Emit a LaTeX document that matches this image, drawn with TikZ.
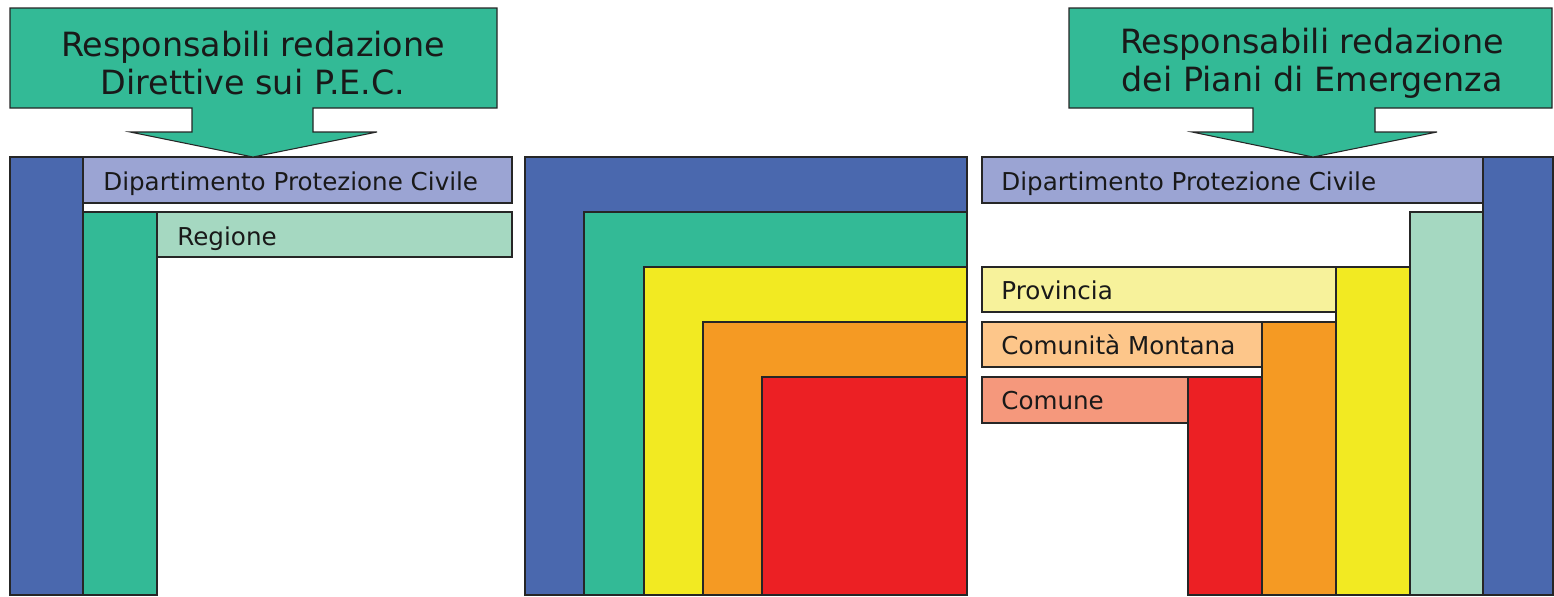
\documentclass[tikz,border=0pt]{standalone}
\usepackage{fontspec}
\setmainfont{DejaVu Sans}
\definecolor{cBlue}{HTML}{4A68AE}
\definecolor{cTeal}{HTML}{33BA96}
\definecolor{cYellow}{HTML}{F2EA22}
\definecolor{cOrange}{HTML}{F59A23}
\definecolor{cRed}{HTML}{EC2024}
\definecolor{cLavender}{HTML}{9BA4D3}
\definecolor{cMint}{HTML}{A5D8C1}
\definecolor{cPaleYellow}{HTML}{F7F29B}
\definecolor{cPaleOrange}{HTML}{FDC68A}
\definecolor{cSalmon}{HTML}{F5987C}
\begin{document}
\begin{tikzpicture}[x=0.02cm,y=-0.02cm,
  box/.style={draw=black!85,line width=0.6pt},
  lbl/.style={anchor=base west,inner sep=0pt,font=\fontsize{14}{16}\selectfont,text=black!90},
  ttl/.style={align=center,inner sep=0pt,font=\fontsize{19}{21.5}\selectfont,text=black!90}]
\useasboundingbox (0,0) rectangle (1554,596);

% ---- left panel: directives ----
\draw[box,fill=cBlue]     (10,157)  rectangle (83,595);
\draw[box,fill=cLavender] (83,157)  rectangle (512,203);
\draw[box,fill=cTeal]     (83,212)  rectangle (157,595);
\draw[box,fill=cMint]     (157,212) rectangle (512,257);
\node[lbl] (dpcL) at (103,190) {Dipartimento Protezione Civile};
\node[lbl] (reg)  at (177,245) {Regione};

% ---- middle panel: nested levels ----
\draw[box,fill=cBlue]   (525,157) rectangle (967,595);
\draw[box,fill=cTeal]   (584,212) rectangle (967,595);
\draw[box,fill=cYellow] (644,267) rectangle (967,595);
\draw[box,fill=cOrange] (703,322) rectangle (967,595);
\draw[box,fill=cRed]    (762,377) rectangle (967,595);

% ---- right panel: emergency plans ----
\draw[box,fill=cBlue]       (1483,157) rectangle (1553,595);
\draw[box,fill=cLavender]   (982,157)  rectangle (1483,203);
\draw[box,fill=cMint]       (1410,212) rectangle (1483,595);
\draw[box,fill=cYellow]     (1336,267) rectangle (1410,595);
\draw[box,fill=cPaleYellow] (982,267)  rectangle (1336,312);
\draw[box,fill=cOrange]     (1262,322) rectangle (1336,595);
\draw[box,fill=cPaleOrange] (982,322)  rectangle (1262,367);
\draw[box,fill=cRed]        (1188,377) rectangle (1262,595);
\draw[box,fill=cSalmon]     (982,377)  rectangle (1188,423);
\node[lbl] (dpcR) at (1001,190) {Dipartimento Protezione Civile};
\node[lbl] (prov) at (1001,299) {Provincia};
\node[lbl] (cm)   at (1001,354) {Comunità Montana};
\node[lbl] (com)  at (1001,409) {Comune};

% ---- callout arrows ----
\draw[box,fill=cTeal] (10,8) -- (497,8) -- (497,108) -- (313,108) -- (313,132)
  -- (377,132) -- (253,157) -- (130,132) -- (192,132) -- (192,108) -- (10,108) -- cycle;
\node[ttl] (titleL) at (253,63) {Responsabili redazione\\Direttive sui P.E.C.};

\draw[box,fill=cTeal] (1069,8) -- (1552,8) -- (1552,108) -- (1375,108) -- (1375,132)
  -- (1437,132) -- (1313,157) -- (1192,132) -- (1253,132) -- (1253,108) -- (1069,108) -- cycle;
\node[ttl] (titleR) at (1312,63) {Responsabili redazione\\dei Piani di Emergenza};
\end{tikzpicture}
\end{document}
